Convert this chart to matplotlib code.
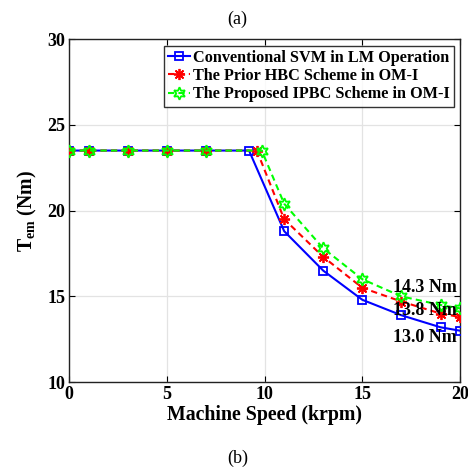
import numpy as np
import matplotlib.pyplot as plt
from matplotlib import rcParams

rcParams['font.family'] = 'Liberation Serif'
rcParams['font.weight'] = 'bold'
rcParams['mathtext.fontset'] = 'custom'
rcParams['mathtext.rm'] = 'Liberation Serif:bold'
rcParams['mathtext.bf'] = 'Liberation Serif:bold'
rcParams['mathtext.it'] = 'Liberation Serif:bold'

# Speed (krpm) and electromagnetic torque (Nm) for the three schemes
speed_svm = [0, 1, 3, 5, 7, 9.2, 11, 13, 15, 17, 19, 20]
torque_svm = [23.5, 23.5, 23.5, 23.5, 23.5, 23.5, 18.8, 16.5, 14.8, 13.9, 13.2, 13.0]

speed_hbc = [0, 1, 3, 5, 7, 9.6, 11, 13, 15, 17, 19, 20]
torque_hbc = [23.5, 23.5, 23.5, 23.5, 23.5, 23.5, 19.5, 17.3, 15.5, 14.7, 14.0, 13.8]

speed_ipbc = [0, 1, 3, 5, 7, 9.85, 11, 13, 15, 17, 19, 20]
torque_ipbc = [23.5, 23.5, 23.5, 23.5, 23.5, 23.5, 20.4, 17.8, 16.0, 15.0, 14.5, 14.3]

labels = ['Conventional SVM in LM Operation',
          'The Prior HBC Scheme in OM-I',
          'The Proposed IPBC Scheme in OM-I']

fig = plt.figure(figsize=(4.68, 4.73), dpi=100)
ax = fig.add_axes([0.148, 0.192, 0.835, 0.7255])

ax.plot(speed_svm, torque_svm, '-', color='#0000ff', lw=1.5, marker='s',
        ms=6, mfc='none', mec='#0000ff', mew=1.3, label=labels[0], zorder=3)
ax.plot(speed_hbc, torque_hbc, '--', color='#ff0000', lw=1.5, dashes=(3, 2),
        marker=(8, 2, 0), ms=8, mec='#ff0000', mew=1.3, label=labels[1], zorder=4)
ax.plot(speed_ipbc, torque_ipbc, '--', color='#00ff00', lw=1.5, dashes=(3, 2),
        marker=(6, 1, 0), ms=9, mfc='none', mec='#00ff00', mew=1.3,
        label=labels[2], zorder=5)

# final torque values at 20 krpm
for y, txt in [(15.5, '14.3 Nm'), (14.2, '13.8 Nm'), (12.6, '13.0 Nm')]:
    ax.text(19.85, y, txt, ha='right', va='center', fontsize=13,
            fontweight='bold', zorder=6)

ax.set_xlim(0, 20)
ax.set_ylim(10, 30)
ax.set_xticks([0, 5, 10, 15, 20])
ax.set_yticks([10, 15, 20, 25, 30])
ax.tick_params(direction='in', top=True, right=True, labelsize=13,
               length=4, width=0.8, pad=3)
ax.grid(True, color='#e3e3e3', lw=0.9)
ax.set_axisbelow(True)
for s in ax.spines.values():
    s.set_linewidth(1.0)
    s.set_color('#222222')

ax.set_xlabel('Machine Speed (krpm)', fontsize=14.3, fontweight='bold', labelpad=1)
ax.set_ylabel(r'$\mathrm{T_{em}}$ (Nm)', fontsize=14.3, fontweight='bold', labelpad=6)

leg = ax.legend(loc='upper right', frameon=True, fancybox=False,
                edgecolor='black', borderpad=0.25, labelspacing=0.15,
                handlelength=1.35, handletextpad=0.15, borderaxespad=0.4,
                prop={'weight': 'bold', 'size': 11.7})
leg.get_frame().set_linewidth(1.0)

fig.text(0.508, 0.96, '(a)', ha='center', va='center', fontsize=13, fontweight='normal')
fig.text(0.508, 0.032, '(b)', ha='center', va='center', fontsize=13, fontweight='normal')

fig.savefig('out.png', dpi=100)
